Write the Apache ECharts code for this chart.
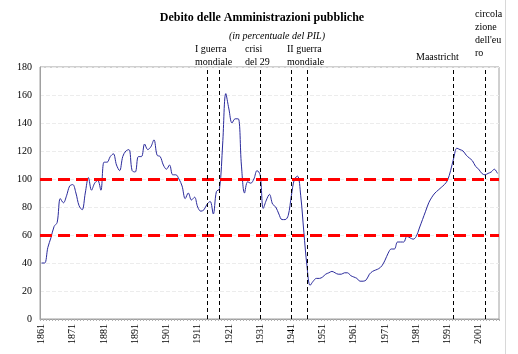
<!DOCTYPE html>
<html lang="it">
<head>
	<meta charset="UTF-8">
	<title>Debito delle Amministrazioni pubbliche</title>
	<script src="https://cdn.jsdelivr.net/npm/echarts@6/dist/echarts.min.js"></script>
	<style>
		html,body{margin:0;padding:0;background:#fff;}
		#chart{width:518px;height:354px;}
	</style>
</head>
<body>
	<div id="chart"></div>
	<script>
	// anni 1861-2007
	var firstYear = 1861;
	var lastYear = 2007;

	// debito in % del PIL
	var debt1861 = [40, 40, 51, 58, 66, 69, 86, 83, 88, 95];          // 1861-1870
	var debt1871 = [96, 90, 81, 78, 90, 101, 92, 97, 99, 92];         // 1871-1880
	var debt1881 = [112, 112, 116, 118, 110, 106, 116, 120, 121, 106]; // 1881-1890
	var debt1891 = [105, 116, 116, 125, 121, 123, 128, 117, 116, 110]; // 1891-1900
	var debt1901 = [107, 110, 103, 103, 100, 95, 86, 90, 85, 87];      // 1901-1910
	var debt1911 = [80, 77, 78, 82, 84, 75, 91, 93, 125, 161];         // 1911-1920
	var debt1921 = [150, 140, 143, 143, 110, 90, 98, 97, 100, 106];    // 1921-1930
	var debt1931 = [103, 79, 85, 89, 82, 80, 75, 71, 71, 74];          // 1931-1940
	var debt1941 = [88, 100, 102, 88, 62, 38, 24, 27, 29, 29];         // 1941-1950
	var debt1951 = [30, 32, 33, 34, 33, 32, 32, 33, 33, 31];           // 1951-1960
	var debt1961 = [30, 29, 27, 27, 28, 32, 34, 35, 36, 38];           // 1961-1970
	var debt1971 = [42, 47, 50, 50, 55, 55, 55, 59, 58, 57];           // 1971-1980
	var debt1981 = [59, 65, 71, 77, 83, 87, 90, 92, 94, 96];           // 1981-1990
	var debt1991 = [99, 106, 115, 122, 121, 120, 117, 115, 113, 109];  // 1991-2000
	var debt2001 = [107, 104, 103, 104, 105, 107, 104];                // 2001-2007

	// soglie e eventi
	var thresholds = [60, 100];
	var eventYears = ['1914', '1918', '1931', '1941', '1946', '1993', '2003'];

	var debt = [].concat(debt1861, debt1871, debt1881, debt1891, debt1901, debt1911,
		debt1921, debt1931, debt1941, debt1951, debt1961, debt1971, debt1981, debt1991, debt2001);

	var years = [];
	for (var y = firstYear; y <= lastYear; y++) {
		years.push(String(y));
	}

	var serif = '"Liberation Serif", "Times New Roman", serif';

	// testi delle annotazioni
	function note(text, x, y) {
		return {
			type: 'text',
			left: x,
			top: y,
			style: {
				text: text,
				font: '10px ' + serif,
				fill: '#000',
				lineHeight: 13
			}
		};
	}

	var myChart = echarts.init(document.getElementById('chart'));

	var option = {
		backgroundColor: '#fff',
		animation: false,
		title: [{
			text: 'Debito delle Amministrazioni pubbliche',
			left: 257,
			top: 7,
			textAlign: 'center',
			textStyle: {
				fontFamily: serif,
				fontSize: 12,
				fontWeight: 'bold',
				color: '#000'
			}
		}, {
			text: '(in percentuale del PIL)',
			left: 272,
			top: 26,
			textAlign: 'center',
			textStyle: {
				fontFamily: serif,
				fontSize: 10,
				fontStyle: 'italic',
				fontWeight: 'normal',
				color: '#000'
			}
		}],
		grid: {
			left: 40,
			right: 19,
			top: 67,
			bottom: 35,
			show: true,
			borderColor: '#a0a0a0',
			borderWidth: 1
		},
		xAxis: {
			type: 'category',
			data: years,
			boundaryGap: true,
			axisLine: { lineStyle: { color: '#a0a0a0', width: 1 } },
			axisTick: {
				show: true,
				interval: 0,
				length: 2,
				lineStyle: { color: '#b0b0b0' }
			},
			axisLabel: {
				interval: 9,
				rotate: 90,
				margin: 5,
				fontFamily: serif,
				fontSize: 10,
				color: '#000'
			},
			splitLine: { show: false }
		},
		yAxis: {
			type: 'value',
			min: 0,
			max: 180,
			interval: 20,
			axisLine: { show: true, lineStyle: { color: '#a0a0a0' } },
			axisTick: { show: false },
			axisLabel: {
				margin: 8,
				fontFamily: serif,
				fontSize: 10,
				color: '#000'
			},
			splitLine: {
				show: true,
				lineStyle: { color: '#ececec', type: 'dashed', width: 1 }
			}
		},
		graphic: [
			note('I guerra\nmondiale', 195, 43),
			note('crisi\ndel 29', 245, 43),
			note('II guerra\nmondiale', 287, 43),
			note('Maastricht', 416, 51),
			note('circola\nzione\ndell\'eu\nro', 475, 8),
			{
				type: 'line',
				shape: { x1: 505.5, y1: 0, x2: 505.5, y2: 354 },
				style: { stroke: '#d8d8d8', lineWidth: 1 }
			}
		],
		series: [{
			name: 'Debito',
			type: 'line',
			data: debt,
			smooth: 0.35,
			symbol: 'none',
			lineStyle: { color: '#2b2b9c', width: 1 },
			z: 3,
			markLine: {
				silent: true,
				symbol: ['none', 'none'],
				label: { show: false },
				data: thresholds.map(function (v) {
					return {
						yAxis: v,
						lineStyle: { color: '#ff0000', width: 3, type: [12, 6] }
					};
				}).concat(eventYears.map(function (yr) {
					return {
						xAxis: yr,
						lineStyle: { color: '#000', width: 1, type: [4, 3] }
					};
				}))
			}
		}]
	};

	myChart.setOption(option);
	</script>
</body>
</html>
